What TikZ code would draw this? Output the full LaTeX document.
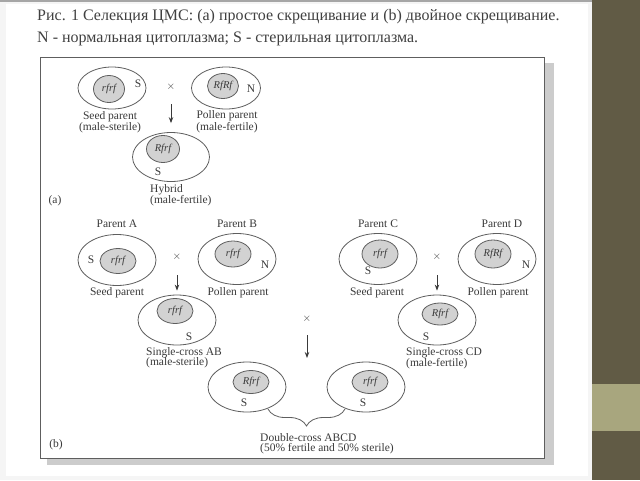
\documentclass[tikz,border=0pt]{standalone}
\usepackage{fontspec}
\setmainfont{Liberation Serif}
\usepackage{tikz}
\usetikzlibrary{shapes.geometric, arrows.meta, decorations.pathreplacing}

\definecolor{olive}{HTML}{615B45}
\definecolor{lightolive}{HTML}{A8A67E}
\definecolor{linec}{HTML}{5E5E5E}
\definecolor{corec}{HTML}{D2D2D2}
\definecolor{txt}{HTML}{3A3A3A}
\definecolor{titlec}{HTML}{404040}

\begin{document}
\begin{tikzpicture}[x=1pt, y=-1pt,
    cell/.style={ellipse, draw=linec, line width=0.8pt, minimum width=78pt, minimum height=50pt, inner sep=0pt},
    core/.style={ellipse, draw=linec, fill=corec, line width=0.8pt, minimum width=36pt, minimum height=26pt, inner sep=0pt, text=txt, font=\fontsize{10.5}{10.5}\selectfont\itshape},
    lab/.style={inner sep=0pt, text=txt, align=center, font=\fontsize{11.5}{10.5}\selectfont},
    cyto/.style={inner sep=0pt, text=txt, font=\fontsize{11.5}{11.5}\selectfont},
    cross/.style={inner sep=0pt, text=txt, font=\fontsize{11}{11}\selectfont},
    arr/.style={-{Stealth[length=6pt, width=4.5pt]}, line width=0.9pt, draw=txt}]
  \useasboundingbox (0,0) rectangle (640,480);

  % slide background
  \fill[white!96!black] (0,0) rectangle (592,480);
  \fill[white] (6,4) rectangle (588,476);
  \draw[gray!70, line width=1.5pt] (0,0.75) -- (592,0.75);
  \fill[olive] (592,0) rectangle (640,480);
  \fill[lightolive] (592,384) rectangle (640,431);

  % title
  \node[anchor=west, inner sep=0pt, text=titlec, font=\fontsize{16}{16}\selectfont] (title1) at (37,17)
    {Рис. 1 Селекция ЦМС: (a) простое скрещивание и (b) двойное скрещивание.};
  \node[anchor=west, inner sep=0pt, text=titlec, font=\fontsize{16}{16}\selectfont] (title2) at (37,39)
    {N - нормальная цитоплазма; S - стерильная цитоплазма.};

  % frame of the figure
  \fill[white] (33,52) rectangle (566,472);
  \fill[gray!40] (47,63) rectangle (554,465);
  \filldraw[fill=white, draw=linec, line width=1pt] (40,57) rectangle (544,458);

  % (a) simple cross
  \node[cell, minimum width=68pt, minimum height=42pt] (seed) at (112,88) {};
  \node[core, minimum width=31pt, minimum height=27pt] (seedc) at (109,89) {rfrf};
  \node[cyto] (seeds) at (138,84) {S};
  \node[cell, minimum width=69pt, minimum height=42pt] (pollen) at (226,88) {};
  \node[core, minimum width=31pt, minimum height=25pt] (pollenc) at (223,86) {RfRf};
  \node[cyto] (pollenn) at (251,89) {N};
  \node[cross] (crossa) at (171,87) {$\times$};
  \node[lab] (seedlab) at (110,122) {Seed parent\\(male-sterile)};
  \node[lab] (pollenlab) at (227,122) {Pollen parent\\(male-fertile)};
  \node[cell, minimum width=77pt, minimum height=49pt] (hybrid) at (171,157) {};
  \node[core, minimum width=33pt, minimum height=27pt] (hybridc) at (163,149) {Rfrf};
  \node[cyto] (hybrids) at (158,172) {S};
  \node[lab, anchor=north west, align=left] (hybridlab) at (150,184) {Hybrid\\(male-fertile)};
  \node[lab] (parta) at (55,201) {(a)};
  \draw[arr] ([yshift=-17pt]crossa.center) -- ([yshift=9pt]hybrid.north);

  % (b) double cross
  \node[lab] (namea) at (117,224) {Parent A};
  \node[lab] (nameb) at (237,224) {Parent B};
  \node[lab] (namec) at (378,224) {Parent C};
  \node[lab] (named) at (502,224) {Parent D};

  \node[cell, minimum height=51pt] (pa) at (117,260) {};
  \node[core, minimum height=25pt] (pac) at (118,261) {rfrf};
  \node[cyto] (pas) at (91,260) {S};
  \node[cell, minimum height=51pt] (pb) at (237,259) {};
  \node[core] (pbc) at (233,254) {rfrf};
  \node[cyto] (pbn) at (265,265) {N};
  \node[cell, minimum height=51pt] (pc) at (378,259) {};
  \node[core, minimum height=28pt] (pcc) at (380,254) {rfrf};
  \node[cyto] (pcs) at (368,271) {S};
  \node[cell, minimum height=51pt] (pd) at (497,259) {};
  \node[core, minimum height=28pt] (pdc) at (493,254) {RfRf};
  \node[cyto] (pdn) at (526,265) {N};

  \node[cross] (crossab) at (177,257) {$\times$};
  \node[cross] (crosscd) at (437,257) {$\times$};
  \node[lab] (seedab) at (117,293) {Seed parent};
  \node[lab] (pollenab) at (238,293) {Pollen parent};
  \node[lab] (seedcd) at (377,293) {Seed parent};
  \node[lab] (pollencd) at (498,293) {Pollen parent};

  \node[cell] (ab) at (177,320) {};
  \node[core, minimum height=25pt] (abc) at (175,311) {rfrf};
  \node[cyto] (abs) at (189,337) {S};
  \node[lab, anchor=north west, align=left] (ablab) at (146,347) {Single-cross AB\\(male-sterile)};
  \node[cell] (cd) at (437,320) {};
  \node[core, minimum height=22pt] (cdc) at (440,314) {Rfrf};
  \node[cyto] (cds) at (426,337) {S};
  \node[lab, anchor=north west, align=left] (cdlab) at (406,347) {Single-cross CD\\(male-fertile)};
  \draw[arr] ([yshift=-18pt]crossab.center) -- ([yshift=4pt]ab.north);
  \draw[arr] ([yshift=-18pt]crosscd.center) -- ([yshift=4pt]cd.north);

  \node[cross] (crossm) at (307,319) {$\times$};
  \node[cell] (dl) at (247,387) {};
  \node[core, minimum height=23pt] (dlc) at (251,382) {Rfrf};
  \node[cyto] (dls) at (244,403) {S};
  \node[cell] (dr) at (366,387) {};
  \node[core, minimum height=23pt] (drc) at (370,382) {rfrf};
  \node[cyto] (drs) at (363,403) {S};
  \draw[arr] ([yshift=-16pt]crossm.center) -- (307,358);

  \coordinate (bl) at (268,409);
  \coordinate (br) at (345,409);
  \draw[linec, line width=0.8pt, decorate, decoration={brace, mirror, amplitude=17pt}] (bl) -- (br);
  \node[lab, anchor=north west, align=left] (abcdlab) at (260,433) {Double-cross ABCD\\(50\% fertile and 50\% sterile)};
  \node[lab] (partb) at (56,445) {(b)};
\end{tikzpicture}
\end{document}
